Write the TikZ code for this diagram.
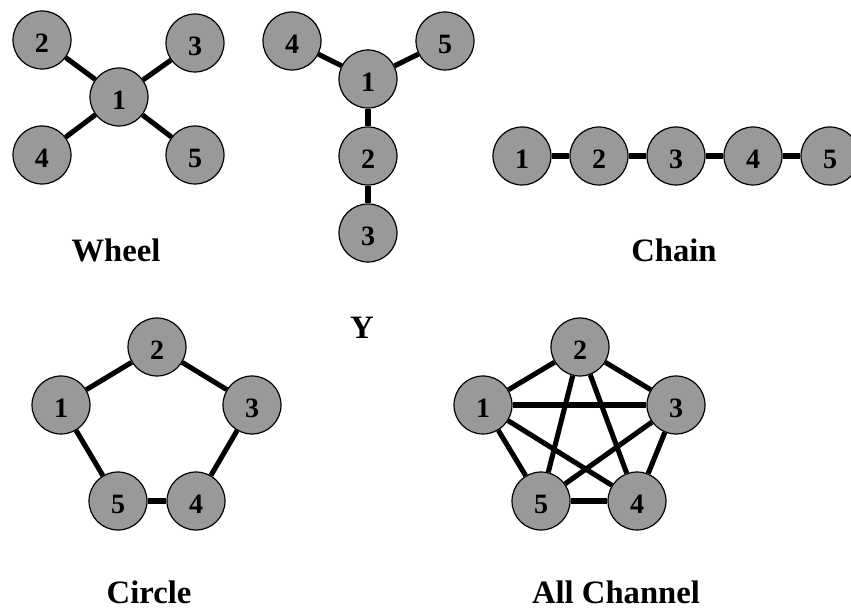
\documentclass[tikz,border=0pt]{standalone}
\usepackage{fontspec}
\setmainfont{Liberation Serif}
\definecolor{nodegray}{RGB}{153,153,153}

\begin{document}
\begin{tikzpicture}[x=0.75pt,y=-0.75pt,
    member/.style={circle,draw=black,line width=0.9pt,fill=nodegray,
        minimum size=43.5pt,inner sep=0pt,text height=19pt,text depth=0pt,
        font=\fontsize{21}{21}\selectfont\bfseries},
    link/.style={line width=3.8pt},
    title/.style={anchor=base,font=\fontsize{24.5}{28}\selectfont\bfseries}]

            \useasboundingbox (0,0) rectangle (851,613);

            % wheel: one hub, four spokes
            \node[member] (w1) at (119,97) {1};
            \node[member] (w2) at (42,40) {2};
            \node[member] (w3) at (195,43) {3};
            \node[member] (w4) at (42,155) {4};
            \node[member] (w5) at (195,155) {5};
            \foreach \n in {2,3,4,5}
                \draw[link] (w1) -- (w\n);
            \node[title] (wheel) at (116,262) {Wheel};

            % Y shape
            \node[member] (y1) at (368,79) {1};
            \node[member] (y2) at (368,156) {2};
            \node[member] (y3) at (368,233) {3};
            \node[member] (y4) at (292,41) {4};
            \node[member] (y5) at (445,41) {5};
            \draw[link] (y4) -- (y1);
            \draw[link] (y5) -- (y1);
            \draw[link] (y1) -- (y2);
            \draw[link] (y2) -- (y3);
            \node[title] (ylabel) at (362,339) {Y};

            % chain of five
            \foreach \n in {1,...,5}
                \node[member] (c\n) at ({522+77*(\n-1)},156) {\n};
            \foreach \a/\b in {1/2,2/3,3/4,4/5}
                \draw[link] (c\a) -- (c\b);
            \node[title] (chain) at (674,262) {Chain};

            % circle
            \node[member] (r1) at (61,405) {1};
            \node[member] (r2) at (157,347) {2};
            \node[member] (r3) at (252,405) {3};
            \node[member] (r4) at (196,501) {4};
            \node[member] (r5) at (118,501) {5};
            \foreach \a/\b in {1/2,2/3,3/4,4/5,5/1}
                \draw[link] (r\a) -- (r\b);
            \node[title] (circle) at (149,603) {Circle};

            % all channel: every pair linked
            \node[member] (a1) at (483,405) {1};
            \node[member] (a2) at (580,347) {2};
            \node[member] (a3) at (676,405) {3};
            \node[member] (a4) at (637,501) {4};
            \node[member] (a5) at (541,501) {5};
            \foreach \a/\b in {1/2,1/3,1/4,1/5,2/3,2/4,2/5,3/4,3/5,4/5}
                \draw[link] (a\a) -- (a\b);
            \node[title] (allchannel) at (616,603) {All Channel};
\end{tikzpicture}
\end{document}
